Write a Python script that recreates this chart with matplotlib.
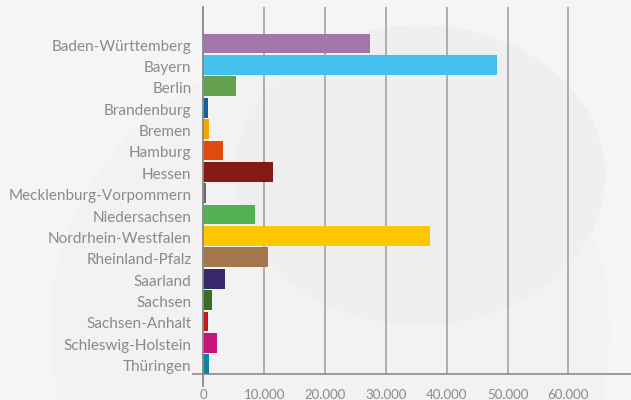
import matplotlib
matplotlib.use("Agg")
import matplotlib.pyplot as plt
from matplotlib.patches import Ellipse
from matplotlib.ticker import FuncFormatter
from matplotlib.transforms import ScaledTranslation

states = ["Baden-Württemberg", "Bayern", "Berlin", "Brandenburg", "Bremen",
          "Hamburg", "Hessen", "Mecklenburg-Vorpommern", "Niedersachsen",
          "Nordrhein-Westfalen", "Rheinland-Pfalz", "Saarland", "Sachsen",
          "Sachsen-Anhalt", "Schleswig-Holstein", "Thüringen"]
values = [27400, 48300, 5350, 750, 900, 3200, 11400, 400, 8450,
          37250, 10600, 3500, 1400, 750, 2200, 900]
colors = ["#a076ab", "#43c0ee", "#64a04e", "#14609a", "#f5a400", "#e04a0c",
          "#861a16", "#6a6a6a", "#52b153", "#ffc700", "#a3764e", "#38276a",
          "#3a6e22", "#c8191c", "#c8157a", "#0a84a0"]
xticks = [0, 10000, 20000, 30000, 40000, 50000, 60000]

plt.rcParams['font.family'] = ['Lato', 'DejaVu Sans']

fig = plt.figure(figsize=(6.31, 4.0), dpi=100)
fig.patch.set_facecolor("#f5f5f5")

# soft background blobs in a separate axes behind the chart
bg = fig.add_axes([0, 0, 1, 1], zorder=0)
bg.set_xlim(0, 631)
bg.set_ylim(400, 0)
bg.axis("off")
bg.add_patch(Ellipse((330, 330), 560, 560, facecolor="#f2f2f2", edgecolor="none", zorder=0))
bg.add_patch(Ellipse((420, 175), 370, 300, facecolor="#efefef", edgecolor="none", zorder=1))

ax = fig.add_axes([193 / 631, 1 - 374 / 400, 1 - 193 / 631, 367 / 400], zorder=1)
ax.set_facecolor("none")

n = len(states)
ypos = [n - 1 - i for i in range(n)]
ax.barh(ypos, values, height=0.92, color=colors, zorder=3)

ax.set_xlim(-1700, 70300)
ax.set_ylim(-0.46, n - 1 + 1.71)
ax.set_yticks(ypos)
ax.set_yticklabels(states)
ax.set_xticks(xticks)
ax.xaxis.set_major_formatter(FuncFormatter(lambda v, p: f"{int(v):,}".replace(",", ".")))

for x in xticks[1:]:
    ax.axvline(x, color="#a8a8a8", lw=1.3, zorder=1)
ax.axvline(0, ymin=-0.032, ymax=1, color="#888888", lw=1.3, zorder=4, clip_on=False)

for s in ["top", "right", "left"]:
    ax.spines[s].set_visible(False)
ax.spines["bottom"].set_color("#8c8c8c")
ax.spines["bottom"].set_linewidth(1.2)

ax.tick_params(axis="y", length=0, pad=1, labelsize=11, labelcolor="#8a8a8a")
ax.tick_params(axis="x", length=0, pad=11, labelsize=9.5, labelcolor="#8a8a8a")

# nudge state names down a touch so they sit like the original
shift = ScaledTranslation(0, -1.5 / 100, fig.dpi_scale_trans)
for lab in ax.get_yticklabels():
    lab.set_transform(lab.get_transform() + shift)

plt.savefig("out.png", dpi=100, facecolor=fig.get_facecolor())
